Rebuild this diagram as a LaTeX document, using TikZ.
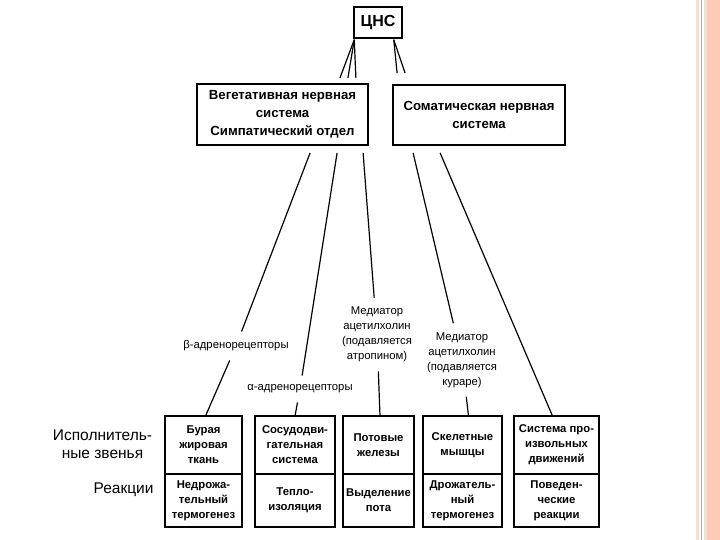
\documentclass[tikz,border=0pt]{standalone}
\usepackage{fontspec}
\setmainfont{Liberation Sans}
\definecolor{slidepeach}{RGB}{253,202,184}
\definecolor{slideorange}{RGB}{222,160,110}
\definecolor{slidepale}{RGB}{244,222,208}
\usetikzlibrary{positioning,calc}

\begin{document}
\begin{tikzpicture}[x=1pt,y=-1pt,
  box/.style={draw, line width=1.8pt, align=center, inner sep=2pt, font=\fontsize{13.2}{18}\selectfont\bfseries},
  cell/.style={draw, line width=1.7pt, outer sep=0pt, align=center, inner sep=1pt, font=\fontsize{11.3}{15}\selectfont\bfseries},
  lbl/.style={align=center, inner xsep=2pt, inner ysep=9pt, font=\fontsize{11.3}{15}\selectfont},
  rowname/.style={align=center, font=\fontsize{15.5}{18}\selectfont},
  link/.style={line width=1.2pt}]
  \useasboundingbox (0,0) rectangle (720,540);

  %--- Slide edge ---
  \fill[slidepale] (696,0) rectangle (699,540);
  \fill[slideorange] (700.5,0) rectangle (702,540);
  \fill[slidepale] (704,0) rectangle (707,540);
  \fill[slidepeach] (707,0) rectangle (720,540);

  %--- Top level ---
  \node[box, line width=1.5pt, minimum width=48pt, minimum height=31pt, font=\fontsize{16}{18}\selectfont\bfseries] (cns) at (378,22.5) {ЦНС};
  \node[box, minimum width=171pt, minimum height=61pt] (veg) at (282.5,114.5) {Вегетативная нервная\\система\\Симпатический отдел};
  \node[box, minimum width=172pt, minimum height=60pt] (som) at (479,115) {Соматическая нервная\\система};

  \draw[link] ($(cns.south west)+(1,1)$) -- ($(veg.north east)+(-29,-5)$);
  \draw[link] ($(cns.south west)+(1,1)$) -- ($(veg.north east)+(-21,-5)$);
  \draw[link] ($(cns.south west)+(1,1)$) -- ($(veg.north east)+(-13,-5)$);
  \draw[link] ($(cns.south east)+(-9,1)$) -- ($(som.north west)+(5,-11)$);
  \draw[link] ($(cns.south east)+(-9,1)$) -- ($(som.north west)+(13,-11)$);

  %--- Effectors (top row) and reactions (bottom row) ---
  \node[cell, minimum width=77pt, minimum height=58pt] (e1) at (203.5,445) {Бурая\\жировая\\ткань};
  \node[cell, minimum width=77pt, minimum height=53pt, below=0pt of e1] (r1) {Недрожа-\\тельный\\термогенез};
  \node[cell, minimum width=80pt, minimum height=58pt] (e2) at (295,445) {Сосудодви-\\гательная\\система};
  \node[cell, minimum width=80pt, minimum height=53pt, below=0pt of e2] (r2) {Тепло-\\изоляция};
  \node[cell, minimum width=71pt, minimum height=58pt] (e3) at (378.5,445) {Потовые\\железы};
  \node[cell, minimum width=71pt, minimum height=53pt, below=0pt of e3] (r3) {Выделение\\пота};
  \node[cell, minimum width=79pt, minimum height=58pt] (e4) at (462.5,445) {Скелетные\\мышцы};
  \node[cell, minimum width=79pt, minimum height=53pt, below=0pt of e4] (r4) {Дрожатель-\\ный\\термогенез};
  \node[cell, line width=2.2pt, minimum width=85pt, minimum height=58pt] (e5) at (556.5,445) {Система про-\\извольных\\движений};
  \node[cell, line width=2.2pt, minimum width=85pt, minimum height=53pt, below=0pt of e5] (r5) {Поведен-\\ческие\\реакции};

  \node[rowname] (execrow) at (102.5,444) {Исполнитель-\\ные звенья};
  \node[rowname, anchor=east] (reactrow) at (157,490) {Реакции};

  %--- Pathways with labels ---
  \node[lbl] (beta) at (236,346) {β-адренорецепторы};
  \node[lbl] (alpha) at (300,389) {α-адренорецепторы};
  \node[lbl] (medA) at (377,334.5) {Медиатор\\ацетилхолин\\(подавляется\\атропином)};
  \node[lbl] (medB) at (462,360) {Медиатор\\ацетилхолин\\(подавляется\\кураре)};

  \draw[link] ($(veg.south west)+(114,7)$) -- (beta) -- ([xshift=2pt]e1.north);
  \draw[link] ($(veg.south west)+(141,7)$) -- (alpha) -- (e2.north);
  \draw[link] ($(veg.south west)+(167,7)$) -- (medA) -- ([xshift=1.5pt]e3.north);
  \draw[link] ($(som.south west)+(21,7)$) -- (medB) -- ([xshift=6pt]e4.north);
  \draw[link] ($(som.south west)+(48,7)$) -- ([xshift=-4pt]e5.north);
\end{tikzpicture}
\end{document}
